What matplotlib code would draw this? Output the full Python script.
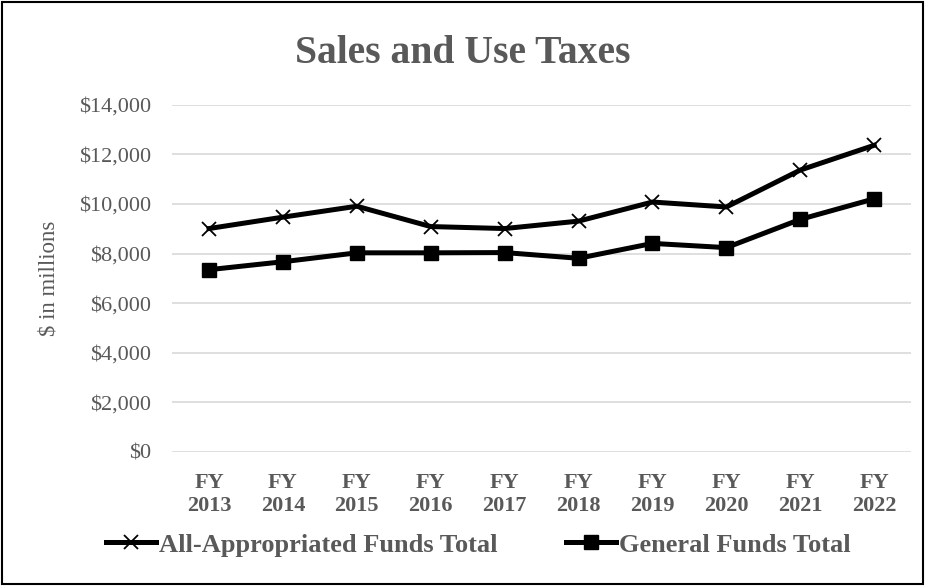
import matplotlib
matplotlib.use("Agg")
import matplotlib.pyplot as plt
from matplotlib.ticker import FuncFormatter
from matplotlib.patches import Rectangle

# Data ($ in millions)
years = ["FY\n2013", "FY\n2014", "FY\n2015", "FY\n2016", "FY\n2017",
         "FY\n2018", "FY\n2019", "FY\n2020", "FY\n2021", "FY\n2022"]
all_funds = [9010, 9470, 9910, 9090, 9010, 9310, 10080, 9880, 11370, 12370]
general_funds = [7350, 7670, 8030, 8030, 8040, 7810, 8410, 8240, 9380, 10210]

gray = "#595959"
plt.rcParams["font.family"] = ["Liberation Serif", "DejaVu Serif"]

fig = plt.figure(figsize=(9.25, 5.86), dpi=100)
ax = fig.add_axes([0.186, 0.229, 0.799, 0.592])

x = list(range(len(years)))
ax.plot(x, all_funds, color="black", linewidth=3.6, marker="x",
        markersize=10, markeredgewidth=1.3, label="All-Appropriated Funds Total")
ax.plot(x, general_funds, color="black", linewidth=3.6, marker="s",
        markersize=9.5, label="General Funds Total")

ax.set_xlim(-0.5, len(years) - 0.5)
ax.set_ylim(0, 14000)
ax.set_yticks(range(0, 14001, 2000))
ax.yaxis.set_major_formatter(FuncFormatter(lambda v, p: "${:,.0f}".format(v)))
ax.set_xticks(x)
ax.set_xticklabels(years, fontweight="bold", fontsize=16, color=gray, linespacing=1.15)
ax.tick_params(axis="y", labelsize=16, labelcolor=gray, length=0, pad=15)
ax.tick_params(axis="x", length=0, pad=15.5)
ax.grid(axis="y", color="#d9d9d9", linewidth=1.2)
ax.set_axisbelow(True)
for s in ax.spines.values():
    s.set_visible(False)

ax.set_ylabel("$ in millions", fontsize=16.5, color=gray, labelpad=14)
fig.suptitle("Sales and Use Taxes", fontsize=28.5, fontweight="bold", color=gray, y=0.908,
             va="center")

fig.legend(loc="center", bbox_to_anchor=(0.517, 0.07), ncol=2, frameon=False,
           prop={"weight": "bold", "size": 19}, labelcolor=gray,
           handlelength=1.9, handletextpad=0.1, columnspacing=2.6)

fig.patches.append(Rectangle((0.002, 0.003), 0.996, 0.994, transform=fig.transFigure,
                             fill=False, edgecolor="black", linewidth=1.5))

fig.savefig("out.png", dpi=100)
